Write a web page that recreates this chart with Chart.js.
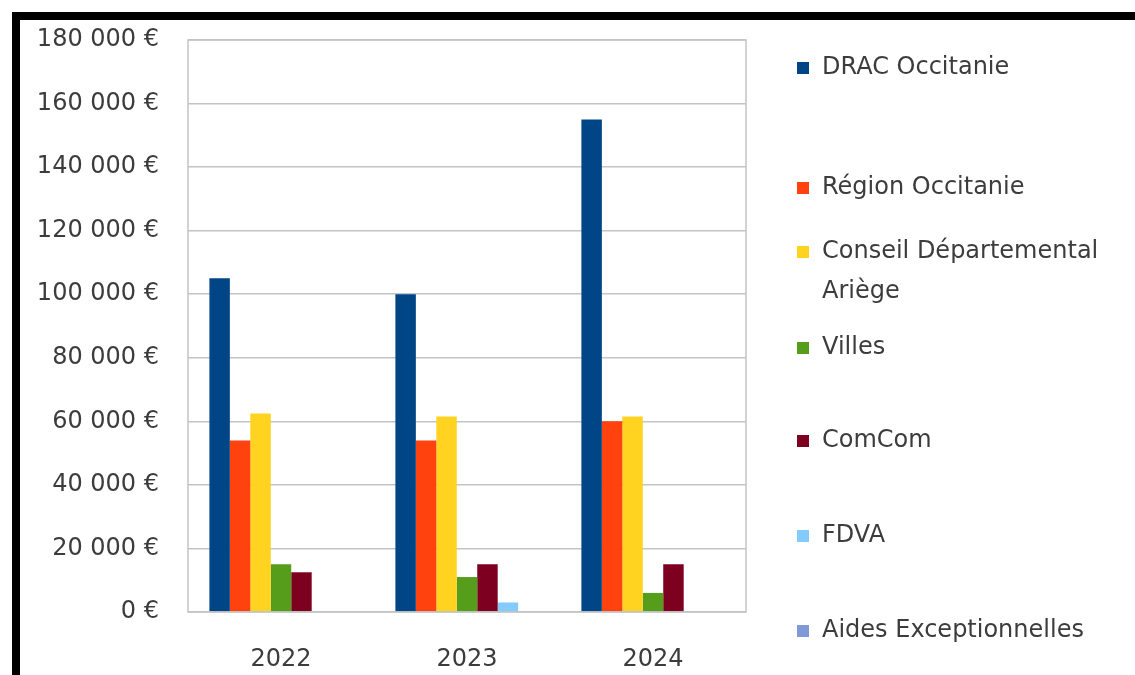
<!DOCTYPE html>
<html>
<head>
<meta charset="utf-8">
<script src="https://cdn.jsdelivr.net/npm/chart.js@4/dist/chart.umd.min.js"></script>
<style>
  body { margin: 0; background: #fff; }
  #wrap { position: relative; width: 1135px; height: 675px; }
  #graphique { display: block; }
  #cadre { position: absolute; left: 12px; top: 12px; right: 0; bottom: 0;
           border-top: 8px solid #000; border-left: 8px solid #000; pointer-events: none; }
</style>
</head>
<body>
<div id="wrap">
  <canvas id="graphique" width="1135" height="675"></canvas>
  <div id="cadre"></div>
</div>
<script>
// Données
const annees = ["2022", "2023", "2024"];
const financeurs = ["DRAC Occitanie", "Région Occitanie", ["Conseil Départemental", "Ariège"], "Villes", "ComCom", "FDVA", "Aides Exceptionnelles"];
const drac = [105000, 100000, 155000];
const region = [54000, 54000, 60000];
const conseil = [62500, 61500, 61500];
const villes = [15000, 11000, 6000];
const comcom = [12500, 15000, 15000];
const fdva = [0, 3000, 0];
const aides = [0, 0, 0];
const couleurs = ["#004586", "#ff420e", "#ffd320", "#579d1c", "#7e0021", "#83caff", "#7f9ad6"];
const graduations = [0, 20000, 40000, 60000, 80000, 100000, 120000, 140000, 160000, 180000];

const series = [drac, region, conseil, villes, comcom, fdva, aides];
const police = "'DejaVu Sans', sans-serif";
const gris = "#3c3c3c";

// Cadre gris autour de la zone de tracé
const cadrePlugin = {
  id: "cadrePlugin",
  afterDatasetsDraw(c) {
    const a = c.chartArea;
    const ctx = c.ctx;
    ctx.save();
    ctx.strokeStyle = "#c4c4c4";
    ctx.lineWidth = 1.5;
    ctx.strokeRect(a.left, a.top, a.right - a.left, a.bottom - a.top);
    ctx.restore();
  }
};

// Légende à droite, comme dans l'original
const legendePlugin = {
  id: "legendePlugin",
  afterDraw(c) {
    const ctx = c.ctx;
    const positionsY = [68, 188, 252, 348, 441, 536, 631];
    ctx.save();
    ctx.font = "24px " + police;
    ctx.textBaseline = "middle";
    c.data.datasets.forEach((ds, i) => {
      const y = positionsY[i];
      ctx.fillStyle = ds.backgroundColor;
      ctx.fillRect(797, y - 6, 12, 12);
      ctx.fillStyle = gris;
      const lignes = Array.isArray(financeurs[i]) ? financeurs[i] : [financeurs[i]];
      lignes.forEach((t, j) => ctx.fillText(t, 822, y + j * 40));
    });
    ctx.restore();
  }
};

const lienzo = document.getElementById("graphique").getContext("2d");
const chart = new Chart(lienzo, {
  type: "bar",
  data: {
    labels: annees,
    datasets: series.map((d, i) => ({
      label: Array.isArray(financeurs[i]) ? financeurs[i].join(" ") : financeurs[i],
      data: d,
      backgroundColor: couleurs[i],
      borderWidth: 0,
      categoryPercentage: 0.77,
      barPercentage: 1
    }))
  },
  options: {
    responsive: false,
    animation: false,
    layout: { padding: { top: 40, right: 389, bottom: 0, left: 0 } },
    scales: {
      x: {
        afterFit: (s) => { s.height = 63; s.paddingLeft = 0; s.paddingRight = 0; },
        grid: { display: false, drawTicks: false },
        border: { display: false },
        ticks: { color: gris, font: { size: 24, family: police }, padding: 33, maxRotation: 0 }
      },
      y: {
        min: 0,
        max: 180000,
        afterFit: (s) => { s.width = 188; s.paddingTop = 0; s.paddingBottom = 0; },
        afterBuildTicks: (s) => { s.ticks = graduations.map(v => ({ value: v })); },
        grid: { color: "#c4c4c4", lineWidth: 1.5, drawTicks: false },
        border: { display: false },
        ticks: {
          color: gris,
          font: { size: 24, family: police },
          padding: 29,
          callback: (v) => v.toLocaleString("fr-FR").replace(/\s/g, " ") + " €"
        }
      }
    },
    plugins: {
      legend: { display: false },
      tooltip: { enabled: false }
    }
  },
  plugins: [cadrePlugin, legendePlugin]
});
</script>
</body>
</html>
